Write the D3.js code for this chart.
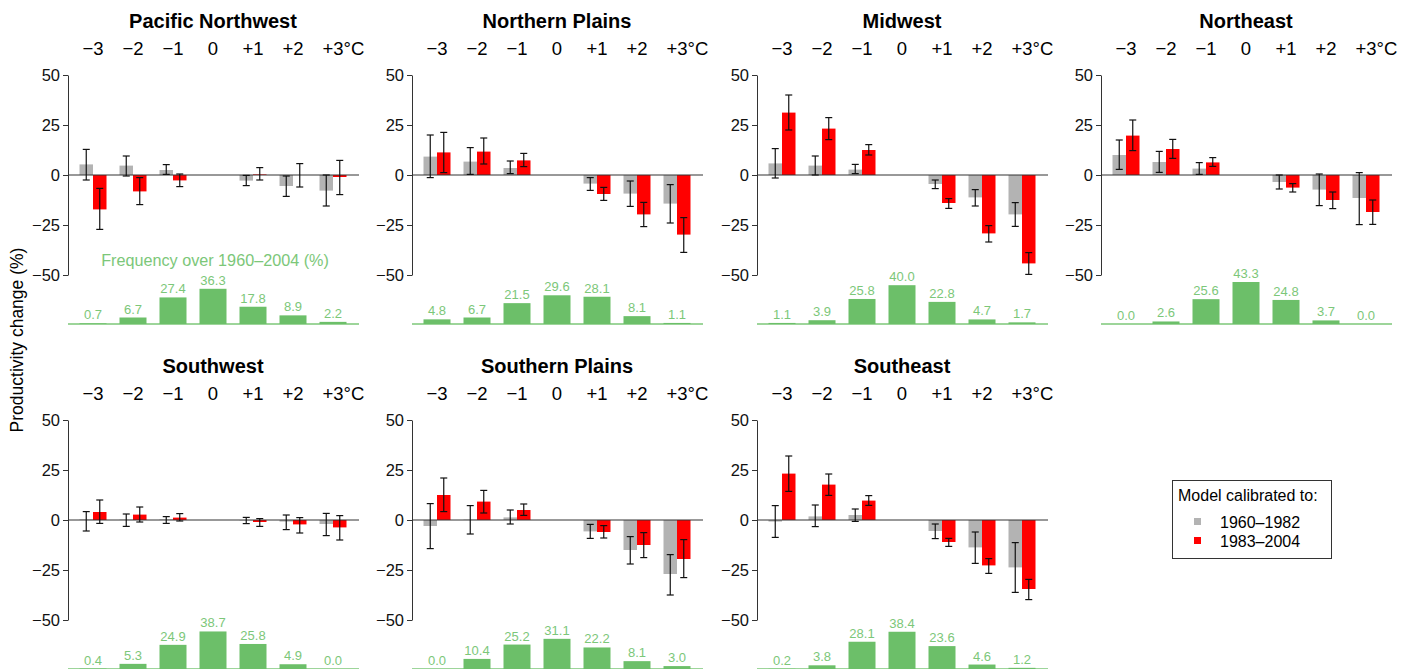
<!DOCTYPE html>
<html>
<head>
<meta charset="utf-8">
<script src="https://cdn.jsdelivr.net/npm/d3@7"></script>
<style>
  body { margin: 0; background: #fff; }
  svg { display: block; font-family: "Liberation Sans", Arial, sans-serif; }
</style>
</head>
<body>
<div class="js-chart"></div>
<script>
const regions = ['Pacific Northwest', 'Northern Plains', 'Midwest', 'Northeast',
                 'Southwest', 'Southern Plains', 'Southeast'];
const temps = ['\u22123', '\u22122', '\u22121', '0', '+1', '+2', '+3'];

// model calibrated to 1960-1982 (grey)
const early = [
  [5.3, 4.7, 2.5, 0, -2.8, -5.5, -7.8],
  [9.2, 6.7, 3.5, 0, -4.3, -9.3, -14.3],
  [5.8, 4.7, 2.7, 0, -4.5, -11.2, -19.7],
  [10, 6.5, 3.2, 0, -3.5, -7.3, -11.5],
  [0.3, 0.2, 0.3, 0, -0.2, -0.8, -2],
  [-3, 0.2, 1.3, 0, -5.7, -15, -27],
  [-0.8, 1.8, 2.5, 0, -5.5, -13.7, -23.7]
];
const earlyLo = [
  [-2.5, -0.5, 0.3, null, -5.3, -10.7, -15.5],
  [-1.3, 0.3, 0.7, null, -7.7, -15.7, -24],
  [-1.5, 0, 0.7, null, -6.8, -15.5, -25.7],
  [2.8, 1.3, 0.3, null, -7, -15.3, -24.8],
  [-5.5, -3.2, -1.7, null, -1.8, -4.8, -7.8],
  [-14.3, -7, -2, null, -9.2, -22, -37.5],
  [-8.7, -3.3, -0.7, null, -9.3, -21.7, -36.2]
];
const earlyHi = [
  [12.8, 9.5, 5.2, null, -0.2, -0.5, 0],
  [20, 13.7, 7, null, -1.3, -3, -4.8],
  [13.2, 9.5, 5.3, null, -2.5, -7.3, -13.8],
  [17.5, 11.8, 6.2, null, 0, 0.5, 1.2],
  [4.2, 3, 1.7, null, 1.3, 2.5, 3.3],
  [8.2, 7.2, 5, null, -2.2, -8.3, -17.3],
  [7.2, 7.5, 5.5, null, -2, -6, -11.3]
];

// model calibrated to 1983-2004 (red)
const late = [
  [-17.2, -8.2, -2.7, 0, 0.3, 0, -1],
  [11.3, 11.7, 7.3, 0, -9.5, -19.7, -29.8],
  [31.2, 23.2, 12.5, 0, -14, -29.2, -44.2],
  [19.7, 13, 6.3, 0, -6.3, -12.5, -18.5],
  [4, 2.7, 1.2, 0, -1, -2.2, -3.7],
  [12.5, 9.2, 5, 0, -6, -12.5, -19.5],
  [23.2, 17.7, 9.7, 0, -11, -22.7, -34.5]
];
const lateLo = [
  [-27.2, -14.8, -5.8, null, -2.5, -6, -9.8],
  [1.2, 5.5, 4.2, null, -12.7, -25.8, -38.7],
  [22.5, 17.7, 10, null, -16.7, -33.5, -49.7],
  [12.2, 8.3, 4.3, null, -8.5, -16.8, -24.7],
  [-1.7, -1, -0.5, null, -3.2, -6.5, -10],
  [4.2, 3.5, 2.3, null, -9, -18.8, -28.8],
  [14.3, 12.3, 7.3, null, -13.2, -26.7, -39.8]
];
const lateHi = [
  [-6.7, -1.3, 0.5, null, 3.7, 5.7, 7.3],
  [21.3, 18.5, 10.8, null, -6.2, -13.7, -21.3],
  [40, 28.7, 15.2, null, -11.8, -25.3, -38.8],
  [27.5, 17.8, 8.7, null, -4.3, -8.5, -12.5],
  [10, 6.5, 3.2, null, 0.7, 1.2, 2.2],
  [21, 14.8, 8, null, -2.8, -6.3, -9.8],
  [32, 23, 12.2, null, -9.2, -19.3, -29.7]
];

// frequency over 1960-2004 (%)
const freq = [
  [0.7, 6.7, 27.4, 36.3, 17.8, 8.9, 2.2],
  [4.8, 6.7, 21.5, 29.6, 28.1, 8.1, 1.1],
  [1.1, 3.9, 25.8, 40.0, 22.8, 4.7, 1.7],
  [0.0, 2.6, 25.6, 43.3, 24.8, 3.7, 0.0],
  [0.4, 5.3, 24.9, 38.7, 25.8, 4.9, 0.0],
  [0.0, 10.4, 25.2, 31.1, 22.2, 8.1, 3.0],
  [0.2, 3.8, 28.1, 38.4, 23.6, 4.6, 1.2]
];

const legendItems = ['1960\u20131982', '1983\u20132004'];
const colors = { early: '#b3b3b3', late: '#ff0000', freq: '#6cbf69', freqText: '#7cc779' };

const W = 1415, H = 669;
const colX = [68, 412, 757, 1101];
const rowY = [0, 345];
const barW = 27;

const svg = d3.select('.js-chart').append('svg')
  .attr('width', W).attr('height', H);

const x = d3.scaleBand().domain(temps).range([5, 285]);
const y = d3.scaleLinear().domain([-50, 50]).range([275, 75]);
const fy = d3.scaleLinear().domain([0, 100]).range([324, 227]);
const cx = d => x(d) + x.bandwidth() / 2;

regions.forEach(function (name, r) {
  const row = r < 4 ? 0 : 1;
  const col = r < 4 ? r : r - 4;
  const g = svg.append('g')
    .attr('transform', 'translate(' + colX[col] + ',' + rowY[row] + ')');

  g.append('text')
    .attr('x', 145).attr('y', 28)
    .attr('text-anchor', 'middle')
    .attr('font-size', 20).attr('font-weight', 'bold')
    .text(name);

  // temperature labels on top, "+3" centred and "°C" hanging after it
  const tl = g.selectAll('.temp').data(temps).enter().append('text')
    .attr('class', 'temp')
    .attr('x', cx).attr('y', 55)
    .attr('text-anchor', 'middle')
    .attr('font-size', 18.5)
    .text(d => d);
  const last = tl.filter((d, i) => i === temps.length - 1);
  const lw = last.node().getComputedTextLength();
  g.append('text')
    .attr('x', cx(temps[6]) + lw / 2).attr('y', 55)
    .attr('font-size', 18.5)
    .text('\u00b0C');

  // y axis
  const ax = g.append('g')
    .call(d3.axisLeft(y).tickValues([-50, -25, 0, 25, 50]).tickSize(5).tickSizeOuter(0).tickPadding(3));
  ax.select('.domain').attr('stroke', '#333');
  ax.selectAll('.tick line').attr('stroke', '#333');
  ax.selectAll('.tick text').attr('font-size', 16.5).attr('fill', '#111')
    .attr('font-family', '"Liberation Sans", Arial, sans-serif');

  const rows = temps.map((t, i) => ({
    t: t, e: early[r][i], eLo: earlyLo[r][i], eHi: earlyHi[r][i],
    l: late[r][i], lLo: lateLo[r][i], lHi: lateHi[r][i], f: freq[r][i]
  }));

  // grey and red bars
  g.selectAll('.bar-e').data(rows).enter().append('rect')
    .attr('x', d => cx(d.t) - barW / 2)
    .attr('width', barW / 2)
    .attr('y', d => y(Math.max(0, d.e)))
    .attr('height', d => Math.abs(y(d.e) - y(0)))
    .attr('fill', colors.early);
  g.selectAll('.bar-l').data(rows).enter().append('rect')
    .attr('x', d => cx(d.t))
    .attr('width', barW / 2)
    .attr('y', d => y(Math.max(0, d.l)))
    .attr('height', d => Math.abs(y(d.l) - y(0)))
    .attr('fill', colors.late);

  // zero line
  g.append('line')
    .attr('x1', 0).attr('x2', 291)
    .attr('y1', y(0)).attr('y2', y(0))
    .attr('stroke', '#333').attr('stroke-width', 1);

  // error bars
  const errs = [];
  rows.forEach(function (d) {
    if (d.eLo !== null) errs.push({ x: cx(d.t) - barW / 4, lo: d.eLo, hi: d.eHi });
    if (d.lLo !== null) errs.push({ x: cx(d.t) + barW / 4, lo: d.lLo, hi: d.lHi });
  });
  const eg = g.selectAll('.err').data(errs).enter().append('g')
    .attr('stroke', '#111').attr('stroke-width', 1.2);
  eg.append('line')
    .attr('x1', d => d.x).attr('x2', d => d.x)
    .attr('y1', d => y(d.lo)).attr('y2', d => y(d.hi));
  eg.append('line')
    .attr('x1', d => d.x - 3.5).attr('x2', d => d.x + 3.5)
    .attr('y1', d => y(d.lo)).attr('y2', d => y(d.lo));
  eg.append('line')
    .attr('x1', d => d.x - 3.5).attr('x2', d => d.x + 3.5)
    .attr('y1', d => y(d.hi)).attr('y2', d => y(d.hi));

  // frequency histogram
  g.append('line')
    .attr('x1', 0).attr('x2', 291)
    .attr('y1', fy(0)).attr('y2', fy(0))
    .attr('stroke', colors.freqText).attr('stroke-width', 1.5);
  g.selectAll('.freq').data(rows).enter().append('rect')
    .attr('x', d => cx(d.t) - barW / 2)
    .attr('width', barW)
    .attr('y', d => fy(d.f))
    .attr('height', d => fy(0) - fy(d.f))
    .attr('fill', colors.freq);
  g.selectAll('.freq-label').data(rows).enter().append('text')
    .attr('x', d => cx(d.t))
    .attr('y', d => fy(d.f) - 4)
    .attr('text-anchor', 'middle')
    .attr('font-size', 13)
    .attr('fill', colors.freqText)
    .text(d => d.f.toFixed(1));

  if (r === 0) {
    g.append('text')
      .attr('x', 147).attr('y', 266)
      .attr('text-anchor', 'middle')
      .attr('font-size', 16.2)
      .attr('fill', colors.freqText)
      .text('Frequency over 1960\u20132004 (%)');
  }
});

svg.append('text')
  .attr('transform', 'translate(23,340) rotate(-90)')
  .attr('text-anchor', 'middle')
  .attr('font-size', 17.5)
  .text('Productivity change (%)');

// legend
const lg = svg.append('g').attr('transform', 'translate(1172,480)');
lg.append('rect')
  .attr('x', 0.5).attr('y', 0.5).attr('width', 159).attr('height', 78)
  .attr('fill', 'none').attr('stroke', '#333');
lg.append('text')
  .attr('x', 6).attr('y', 21)
  .attr('font-size', 16)
  .text('Model calibrated to:');
const li = lg.selectAll('.item').data(legendItems).enter().append('g')
  .attr('transform', (d, i) => 'translate(0,' + (42 + i * 19) + ')');
li.append('rect')
  .attr('x', 22).attr('y', -4).attr('width', 7).attr('height', 7)
  .attr('fill', (d, i) => i === 0 ? colors.early : colors.late);
li.append('text')
  .attr('x', 48).attr('y', 5.5)
  .attr('font-size', 16)
  .text(d => d);
</script>
</body>
</html>
